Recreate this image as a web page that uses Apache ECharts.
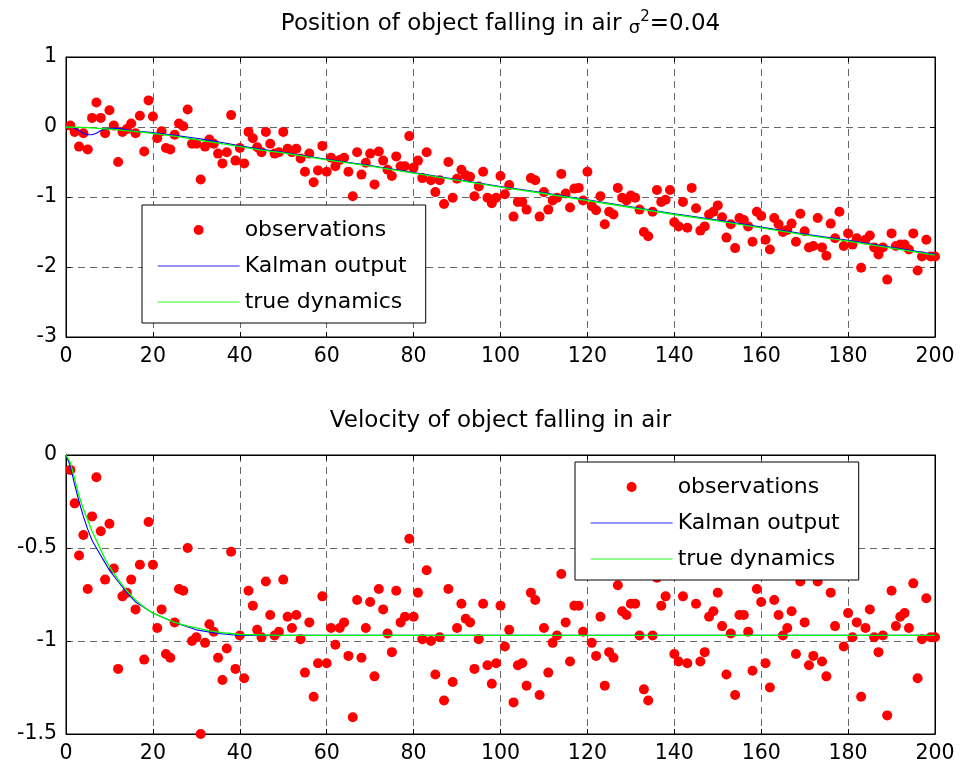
<!DOCTYPE html>
<html>
<head>
<meta charset="utf-8">
<script src="https://cdn.jsdelivr.net/npm/echarts@6/dist/echarts.min.js"></script>
<style>html,body{margin:0;padding:0;background:#fff}#c{width:963px;height:769px}</style>
</head>
<body>
<div id="c"></div>
<script>
// ---------- data ----------
const stepCount = 200; // observations at x = 1..200
const posObs = [0.02,-0.07,-0.28,-0.09,-0.32,0.13,0.35,0.13,-0.09,0.24,
 0.02,-0.5,-0.07,-0.03,0.05,-0.09,0.16,-0.35,0.38,0.15,
 -0.16,-0.06,-0.3,-0.32,-0.11,0.05,0.01,0.25,-0.24,-0.24,
 -0.75,-0.28,-0.18,-0.24,-0.38,-0.52,-0.36,0.17,-0.48,-0.3,
 -0.52,-0.07,-0.16,-0.29,-0.36,-0.07,-0.24,-0.38,-0.36,-0.07,
 -0.31,-0.36,-0.31,-0.45,-0.64,-0.38,-0.79,-0.62,-0.27,-0.64,
 -0.44,-0.56,-0.47,-0.44,-0.64,-0.99,-0.36,-0.68,-0.51,-0.38,
 -0.82,-0.35,-0.48,-0.61,-0.7,-0.42,-0.56,-0.56,-0.13,-0.58,
 -0.48,-0.73,-0.36,-0.76,-0.93,-0.76,-1.1,-0.5,-1.01,-0.74,
 -0.61,-0.69,-0.71,-0.99,-0.85,-0.64,-1.01,-1.09,-1.01,-0.7,
 -0.96,-0.83,-1.28,-1.07,-1.07,-1.18,-0.73,-0.76,-1.28,-0.93,
 -1.18,-1.05,-1.01,-0.67,-0.95,-1.15,-0.88,-0.87,-1.05,-0.64,
 -1.13,-1.19,-0.99,-1.39,-1.21,-1.25,-0.87,-1.01,-1.05,-0.98,
 -1.01,-1.18,-1.5,-1.56,-1.21,-0.9,-1.07,-1.04,-0.9,-1.36,
 -1.42,-1.07,-1.44,-0.87,-1.16,-1.48,-1.42,-1.25,-1.21,-1.12,
 -1.29,-1.58,-1.39,-1.73,-1.3,-1.33,-1.42,-1.64,-1.21,-1.27,
 -1.61,-1.75,-1.3,-1.39,-1.5,-1.47,-1.38,-1.64,-1.24,-1.49,
 -1.72,-1.7,-1.3,-1.72,-1.84,-1.38,-1.59,-1.21,-1.7,-1.52,
 -1.68,-1.59,-2.01,-1.61,-1.55,-1.72,-1.82,-1.72,-2.18,-1.52,
 -1.7,-1.68,-1.68,-1.75,-1.52,-2.05,-1.85,-1.61,-1.85,-1.85];
const velObs = [-0.08,-0.26,-0.54,-0.43,-0.72,-0.33,-0.12,-0.41,-0.67,-0.37,
 -0.61,-1.15,-0.76,-0.74,-0.67,-0.83,-0.59,-1.1,-0.36,-0.59,
 -0.93,-0.83,-1.07,-1.09,-0.9,-0.72,-0.73,-0.5,-1.0,-0.98,
 -1.5,-1.01,-0.91,-0.95,-1.09,-1.21,-1.04,-0.52,-1.15,-0.97,
 -1.2,-0.73,-0.81,-0.94,-0.98,-0.68,-0.86,-0.97,-0.95,-0.67,
 -0.87,-0.93,-0.86,-0.99,-1.17,-0.9,-1.3,-1.12,-0.76,-1.12,
 -0.93,-1.02,-0.93,-0.9,-1.08,-1.41,-0.78,-1.09,-0.93,-0.79,
 -1.19,-0.72,-0.83,-0.96,-1.06,-0.73,-0.9,-0.87,-0.45,-0.87,
 -0.74,-0.99,-0.62,-1.0,-1.18,-0.98,-1.32,-0.72,-1.22,-0.93,
 -0.8,-0.88,-0.9,-1.15,-0.99,-0.8,-1.13,-1.23,-1.12,-0.81,
 -1.03,-0.94,-1.33,-1.13,-1.12,-1.24,-0.74,-0.78,-1.29,-0.93,
 -1.17,-1.01,-0.97,-0.64,-0.9,-1.11,-0.81,-0.81,-0.95,-0.56,
 -1.01,-1.08,-0.87,-1.24,-1.06,-1.09,-0.7,-0.84,-0.86,-0.8,
 -0.8,-0.97,-1.26,-1.32,-0.97,-0.66,-0.81,-0.76,-0.63,-1.07,
 -1.11,-0.76,-1.12,-0.55,-0.8,-1.11,-1.06,-0.87,-0.84,-0.74,
 -0.92,-1.18,-0.96,-1.29,-0.86,-0.86,-0.95,-1.16,-0.72,-0.79,
 -1.12,-1.25,-0.78,-0.86,-0.97,-0.93,-0.84,-1.07,-0.68,-0.9,
 -1.13,-1.08,-0.68,-1.11,-1.19,-0.74,-0.92,-0.57,-1.03,-0.85,
 -0.98,-0.9,-1.3,-0.93,-0.83,-0.98,-1.06,-0.97,-1.4,-0.73,
 -0.92,-0.87,-0.85,-0.93,-0.69,-1.2,-0.99,-0.77,-0.98,-0.98];

const truePosX = [0,5,10,15,20,25,30,35,40,45,50,60,70,80,90,100,110,120,130,140,150,160,170,180,190,200];
const truePosY = [0,-0.01,-0.03,-0.06,-0.09,-0.13,-0.18,-0.23,-0.28,-0.33,-0.37,-0.47,-0.56,-0.66,-0.76,-0.86,-0.95,-1.05,-1.15,-1.25,-1.34,-1.44,-1.54,-1.63,-1.73,-1.83];
const kalPosX = [0,1,2,3,4,5,6,7,8,9,10,12,14,16,18,20,25,30,32,35,40,45,50,60,70,80,90,100,110,120,130,140,150,160,170,180,190,200];
const kalPosY = [0,0.0,-0.02,-0.05,-0.09,-0.11,-0.11,-0.09,-0.05,-0.03,-0.02,-0.02,-0.04,-0.06,-0.07,-0.08,-0.12,-0.16,-0.18,-0.21,-0.27,-0.32,-0.36,-0.46,-0.55,-0.65,-0.75,-0.85,-0.94,-1.04,-1.14,-1.24,-1.33,-1.43,-1.53,-1.62,-1.72,-1.82];
const trueVelX = [0,1,2,3,4,5,6,7,8,9,10,12,14,16,18,20,22,25,28,30,33,36,40,50,60,80,100,120,140,160,180,200];
const trueVelY = [0,-0.04,-0.13,-0.22,-0.29,-0.35,-0.41,-0.46,-0.51,-0.56,-0.6,-0.67,-0.73,-0.78,-0.82,-0.85,-0.87,-0.9,-0.92,-0.93,-0.945,-0.955,-0.965,-0.97,-0.97,-0.97,-0.97,-0.97,-0.97,-0.97,-0.97,-0.97];
const kalVelX = [0,1,2,3,4,5,6,7,8,9,10,12,14,16,18,20,22,25,30,35,40,50,60,80,100,120,140,160,180,200];
const kalVelY = [0,-0.06,-0.16,-0.25,-0.33,-0.4,-0.46,-0.5,-0.54,-0.58,-0.62,-0.68,-0.74,-0.79,-0.82,-0.85,-0.87,-0.9,-0.94,-0.96,-0.97,-0.97,-0.97,-0.97,-0.97,-0.97,-0.97,-0.97,-0.97,-0.97];

const seriesNames = ['observations', 'Kalman output', 'true dynamics'];
const posTitle = 'Position of object falling in air ';
const velTitle = 'Velocity of object falling in air';

// ---------- build ----------
const FONT = 'DejaVu Sans';
const obsX = Array.from({length: stepCount}, (_, i) => i + 1);
const zip = (xs, ys) => xs.map((x, i) => [x, ys[i]]);

const G = [{left: 66, top: 57, width: 869, height: 280}, {left: 66, top: 455, width: 869, height: 279}];
const yRange = [{min: -3, max: 1, interval: 1}, {min: -1.5, max: 0, interval: 0.5}];

const gridLine = {show: true, lineStyle: {color: '#666', type: [7, 5], width: 1}};
const xAxes = [], yAxes = [];
G.forEach((g, gi) => {
  xAxes.push({type: 'value', gridIndex: gi, min: 0, max: 200, interval: 20, position: 'bottom',
    axisLine: {show: true, onZero: false, lineStyle: {color: '#000'}},
    axisTick: {show: true, inside: true, length: 5, lineStyle: {color: '#000'}},
    axisLabel: {show: true, color: '#000', fontFamily: FONT, fontSize: 20.5, margin: 9},
    splitLine: gridLine});
  xAxes.push({type: 'value', gridIndex: gi, min: 0, max: 200, interval: 20, position: 'top',
    axisLine: {show: true, onZero: false, lineStyle: {color: '#000'}},
    axisTick: {show: true, inside: true, length: 5, lineStyle: {color: '#000'}},
    axisLabel: {show: false}, splitLine: {show: false}});
  yAxes.push(Object.assign({type: 'value', gridIndex: gi, position: 'left',
    axisLine: {show: true, onZero: false, lineStyle: {color: '#000'}},
    axisTick: {show: true, inside: true, length: 5, lineStyle: {color: '#000'}},
    axisLabel: {show: true, color: '#000', fontFamily: FONT, fontSize: 20.5, margin: 9},
    splitLine: gridLine}, yRange[gi]));
  yAxes.push(Object.assign({type: 'value', gridIndex: gi, position: 'right',
    axisLine: {show: true, onZero: false, lineStyle: {color: '#000'}},
    axisTick: {show: true, inside: true, length: 5, lineStyle: {color: '#000'}},
    axisLabel: {show: false}, splitLine: {show: false}}, yRange[gi]));
});

function plotSeries(gi, obs, kx, ky, tx, ty) {
  const ax = gi * 2;
  return [
    {name: seriesNames[0], type: 'scatter', xAxisIndex: ax, yAxisIndex: ax, symbol: 'circle', symbolSize: 10,
     itemStyle: {color: '#ff0000', opacity: 1}, data: zip(obsX, obs), z: 2},
    {name: seriesNames[1], type: 'line', xAxisIndex: ax, yAxisIndex: ax, symbol: 'none', showSymbol: false,
     lineStyle: {color: '#0000ff', width: 1.1}, itemStyle: {color: '#0000ff'}, data: zip(kx, ky), z: 3},
    {name: seriesNames[2], type: 'line', xAxisIndex: ax, yAxisIndex: ax, symbol: 'none', showSymbol: false,
     lineStyle: {color: '#00ff00', width: 1.3}, itemStyle: {color: '#00ff00'}, data: zip(tx, ty), z: 4}
  ];
}

const noDot = {color: 'rgba(0,0,0,0)', borderColor: 'rgba(0,0,0,0)', borderWidth: 0};
function legendAt(left, top) {
  return {left: left, top: top, orient: 'vertical', selectedMode: false,
    padding: [7, 19, 3, 15], itemWidth: 82, itemHeight: 10, itemGap: 0,
    backgroundColor: '#fff', borderColor: '#000', borderWidth: 1, z: 10,
    textStyle: {fontFamily: FONT, fontSize: 22, lineHeight: 36, color: '#000'},
    data: [{name: seriesNames[0], icon: 'circle', symbolKeepAspect: true},
           {name: seriesNames[1], itemStyle: noDot, lineStyle: {color: '#6f6fff', width: 1.3}},
           {name: seriesNames[2], itemStyle: noDot, lineStyle: {color: '#6fff6f', width: 1.3}}]};
}

const titleRich = {
  a: {fontFamily: FONT, fontSize: 23, fontWeight: 'normal', color: '#000'},
  s: {fontFamily: FONT, fontSize: 18, fontWeight: 'normal', color: '#000', padding: [8, 0, 0, 0]},
  p: {fontFamily: FONT, fontSize: 15, fontWeight: 'normal', color: '#000', padding: [0, 0, 14, 0]}
};

const option = {
  animation: false,
  backgroundColor: '#fff',
  title: [
    {text: '{a|' + posTitle + '}{s|σ}{p|2}{a|=0.04}', left: 500.5, top: 10, textAlign: 'center', padding: 0,
     textStyle: {fontWeight: 'normal', rich: titleRich}},
    {text: velTitle, left: 500.5, top: 410, textAlign: 'center', padding: 0,
     textStyle: {fontFamily: FONT, fontSize: 23, fontWeight: 'normal', color: '#000'}}
  ],
  grid: G.map(g => Object.assign({show: true, borderColor: '#000', borderWidth: 1, backgroundColor: '#fff', containLabel: false}, g)),
  xAxis: xAxes,
  yAxis: yAxes,
  legend: [legendAt(142, 205), legendAt(575, 462)],
  series: [].concat(
    plotSeries(0, posObs, kalPosX, kalPosY, truePosX, truePosY),
    plotSeries(1, velObs, kalVelX, kalVelY, trueVelX, trueVelY)
  )
};
const chart = echarts.init(document.getElementById('c'), null, {renderer: 'canvas'});
chart.setOption(option);
</script>
</body>
</html>
